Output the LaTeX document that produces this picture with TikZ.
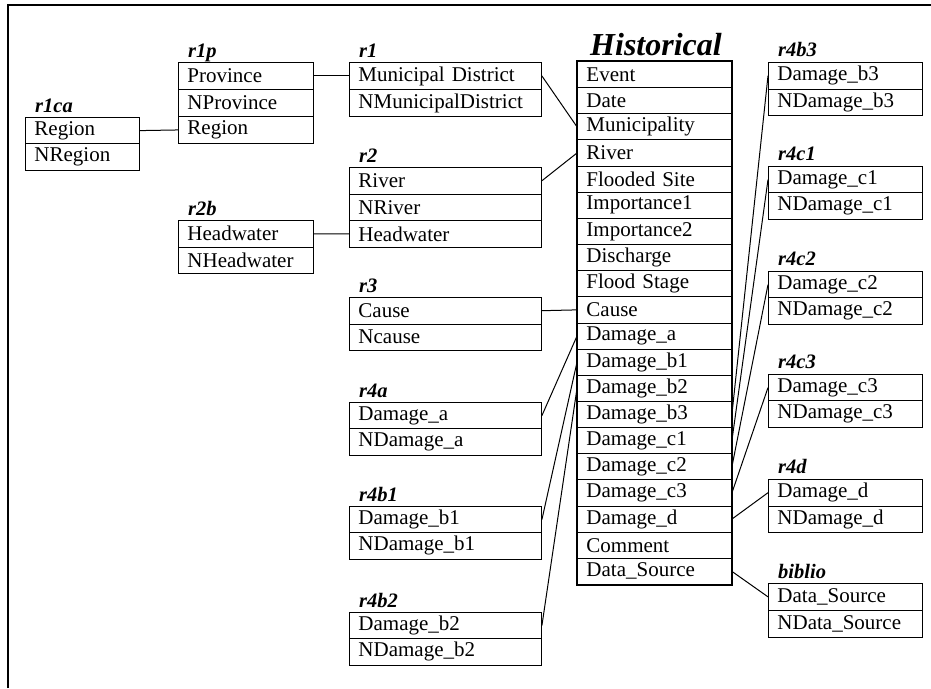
\documentclass[tikz,border=0pt]{standalone}
\usepackage{fontspec}
\setmainfont{Liberation Serif}
\newcommand\cellfont{\fontsize{21}{22}\selectfont}
\newcommand\ttlfont{\fontsize{20.5}{22}\selectfont\bfseries\itshape}
\newcommand\bigttlfont{\fontsize{32}{34}\selectfont\bfseries\itshape}
% name, x, y, width, row height, rows
\newcommand\dbrows[6]{%
  \pgfmathsetmacro\tw{#4-18}%
  \foreach \t [count=\k] in {#6}{%
    \node[cell, text width=\tw pt, minimum height=#5pt] (#1-\k) at (#2,{#3+(\k-1)*#5}) {\t};
  }%
}
\begin{document}
\begin{tikzpicture}[x=1pt,y=-1pt,
  cell/.style={draw, line width=0.9pt, anchor=north west, inner xsep=9pt, inner ysep=0pt, align=left, font=\cellfont},
  ttl/.style={anchor=base west, inner sep=0pt, font=\ttlfont},
  conn/.style={line width=1pt}]
\useasboundingbox (0,0) rectangle (931,688);
\draw[line width=1.2pt] (8,688) -- (8,5) -- (931,5);

% left tables
\dbrows{r1ca}{25}{117}{114}{26.3}{Region, NRegion}
\node[ttl] (r1ca-t) at (35,112) {r1ca};
\dbrows{r1p}{178}{62}{135}{27}{Province, NProvince, Region}
\node[ttl] (r1p-t) at (188,57) {r1p};
\dbrows{r2b}{178}{220}{135}{26.6}{Headwater, NHeadwater}
\node[ttl] (r2b-t) at (188,215) {r2b};

% middle-left tables
\dbrows{r1}{349}{62}{192}{27}{Municipal District, NMunicipalDistrict}
\node[ttl] (r1-t) at (359,57) {r1};
\dbrows{r2}{349}{167}{192}{26.6}{River, NRiver, Headwater}
\node[ttl] (r2-t) at (359,162) {r2};
\dbrows{r3}{349}{297}{192}{26.5}{Cause, Ncause}
\node[ttl] (r3-t) at (359,292) {r3};
\dbrows{r4a}{349}{402}{192}{26.3}{Damage\_a, NDamage\_a}
\node[ttl] (r4a-t) at (359,397) {r4a};
\dbrows{r4b1}{349}{506}{192}{26.3}{Damage\_b1, NDamage\_b1}
\node[ttl] (r4b1-t) at (359,501) {r4b1};
\dbrows{r4b2}{349}{612}{192}{26.3}{Damage\_b2, NDamage\_b2}
\node[ttl] (r4b2-t) at (359,607) {r4b2};

% Historical
\dbrows{h}{577}{61}{154}{26.15}{Event, Date, Municipality, River, Flooded Site, Importance1, Importance2, Discharge, Flood Stage, Cause, Damage\_a, Damage\_b1, Damage\_b2, Damage\_b3, Damage\_c1, Damage\_c2, Damage\_c3, Damage\_d, Comment, Data\_Source}
\draw[line width=2.4pt] (h-1.north west) rectangle (h-20.south east);
\node[anchor=base, inner sep=0pt, font=\bigttlfont] (h-t) at (656,55) {Historical};

% right tables
\dbrows{r4b3}{768}{62}{154}{26.5}{Damage\_b3, NDamage\_b3}
\node[ttl] (r4b3-t) at (778,56) {r4b3};
\dbrows{r4c1}{768}{166}{154}{26.3}{Damage\_c1, NDamage\_c1}
\node[ttl] (r4c1-t) at (778,160) {r4c1};
\dbrows{r4c2}{768}{271}{154}{26.3}{Damage\_c2, NDamage\_c2}
\node[ttl] (r4c2-t) at (778,265) {r4c2};
\dbrows{r4c3}{768}{374}{154}{26.3}{Damage\_c3, NDamage\_c3}
\node[ttl] (r4c3-t) at (778,368) {r4c3};
\dbrows{r4d}{768}{479}{154}{26.5}{Damage\_d, NDamage\_d}
\node[ttl] (r4d-t) at (778,473) {r4d};
\dbrows{biblio}{768}{583}{154}{26.8}{Data\_Source, NData\_Source}
\node[ttl] (biblio-t) at (778,578) {biblio};

% connectors
\draw[conn] (r1ca-1.east) -- (r1p-3.west);
\draw[conn] (r1p-1.east) -- (r1-1.west);
\draw[conn] (r1-1.east) -- (h-3.west);
\draw[conn] (r2-1.east) -- (h-4.west);
\draw[conn] (r2b-1.east) -- (r2-3.west);
\draw[conn] (r3-1.east) -- (h-10.west);
\draw[conn] (r4a-1.east) -- (h-11.west);
\draw[conn] (r4b1-1.east) -- (h-12.west);
\draw[conn] (r4b2-1.east) -- (h-13.west);
\draw[conn] (h-14.east) -- (r4b3-1.west);
\draw[conn] (h-15.east) -- (r4c1-1.west);
\draw[conn] (h-16.east) -- (r4c2-1.west);
\draw[conn] (h-17.east) -- (r4c3-1.west);
\draw[conn] (h-18.east) -- (r4d-1.west);
\draw[conn] (h-20.east) -- (biblio-1.west);
\end{tikzpicture}
\end{document}
